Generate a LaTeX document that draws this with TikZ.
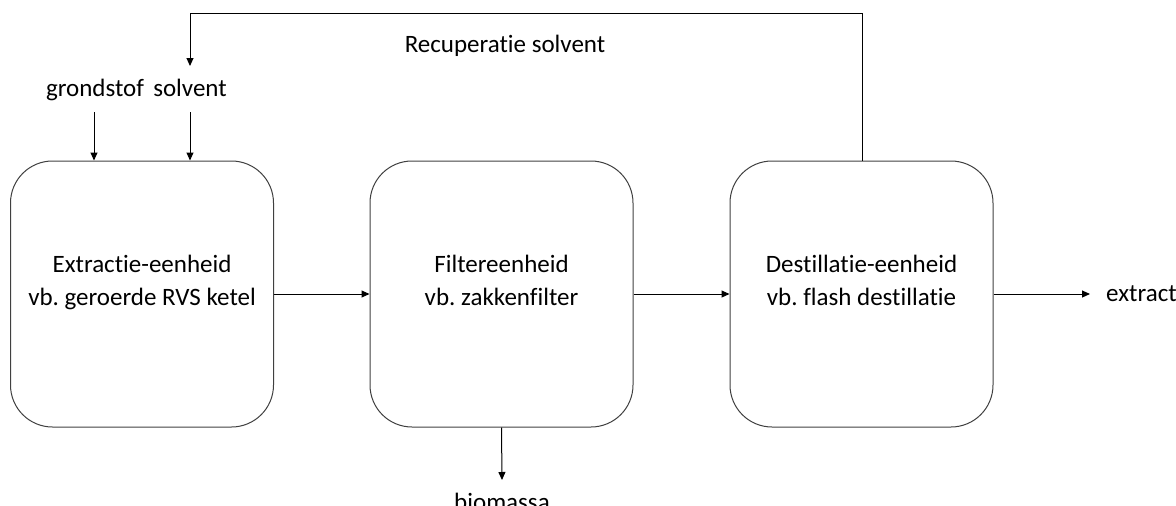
\documentclass[tikz,border=0pt]{standalone}
\usepackage{fontspec}
\setmainfont{Carlito}[Ligatures={NoCommon,NoRare,NoDiscretionary}]
\usetikzlibrary{arrows.meta}
\frenchspacing
\begin{document}
\begin{tikzpicture}[x=1pt,y=-1pt,
  unit/.style={draw=black!75, line width=1pt, rounded corners=42pt, minimum width=263pt, minimum height=266pt, align=center, inner sep=0pt, font=\fontsize{25}{33}\selectfont},
  lbl/.style={inner sep=0pt, font=\fontsize{25}{28}\selectfont},
  flow/.style={draw=black, line width=1pt, -{Triangle[length=8pt,width=7pt]}}]
\useasboundingbox (0,0) rectangle (1176,506);
\node[unit] (ext) at (142,294) {Extractie-eenheid\\vb. geroerde RVS ketel\\[-6pt]};
\node[unit] (fil) at (501.5,294) {Filtereenheid\\vb. zakkenfilter\\[-6pt]};
\node[unit] (dest) at (861.5,294) {Destillatie-eenheid\\vb. flash destillatie\\[-6pt]};
\node[lbl, anchor=base] (grond) at (95,96) {grondstof};
\node[lbl, anchor=base] (solv) at (190,96) {solvent};
\node[lbl, anchor=base] (rec) at (505,52) {Recuperatie solvent};
\node[lbl, anchor=west] (extr) at (1106,294) {extract};
\node[lbl, anchor=base] (bio) at (502,510) {biomassa};
\coordinate (gtop) at (94,112);
\coordinate (stop) at (190,112);
\coordinate (rtop) at (862,13);
\coordinate (ltop) at (190,13);
\coordinate (sarr) at (190,66);
\coordinate (eend) at (1090,294);
\coordinate (bend) at (502,480);
\draw[flow] (gtop) -- (gtop |- ext.north);
\draw[flow] (stop) -- (stop |- ext.north);
\draw[flow] (ext.east) -- (fil.west);
\draw[flow] (fil.east) -- (dest.west);
\draw[flow] (dest.east) -- (eend);
\draw[flow] (fil.south) -- (bend);
\draw[flow] (dest.north -| rtop) -- (rtop) -- (ltop) -- (sarr);
\end{tikzpicture}
\end{document}
